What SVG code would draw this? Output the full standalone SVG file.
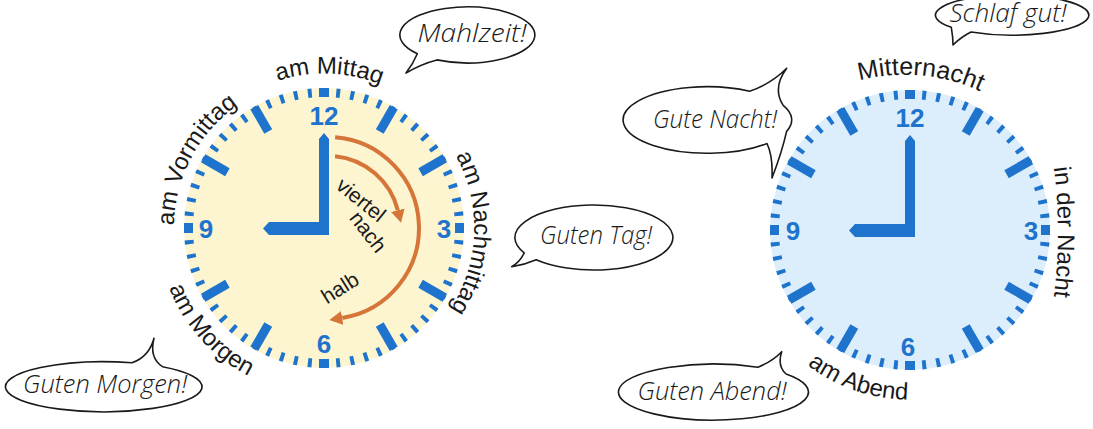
<svg xmlns="http://www.w3.org/2000/svg" xmlns:xlink="http://www.w3.org/1999/xlink" width="1093" height="429" viewBox="0 0 1093 429">
  <style>
    .face-day { fill: #fdf5d0; }
    .face-night { fill: #dcedfb; }
    .blue { fill: #1e73cd; }
    .ring { fill: none; stroke: #1e73cd; stroke-width: 9; stroke-dasharray: 0.28 0.72; stroke-dashoffset: 0.14; }
    .num { font-family: "Liberation Sans Narrow", "Liberation Sans", Arial, sans-serif; font-weight: bold; font-size: 26px; fill: #1e73cd; text-anchor: middle; }
    .lbl { font-family: "Liberation Sans", Arial, sans-serif; font-size: 24px; fill: #1a1a1a; }
    .inner { font-family: "Liberation Sans", Arial, sans-serif; font-size: 21px; fill: #1a1a1a; text-anchor: middle; }
    .arc { fill: none; stroke: #d67538; stroke-width: 4; }
    .bubble { fill: #ffffff; stroke: #1a1a1a; stroke-width: 1.6; stroke-linejoin: round; }
    .say { font-family: "Open Sans", "Noto Sans", sans-serif; font-style: italic; font-weight: 300; font-size: 25px; fill: #1a1a1a; text-anchor: middle; }
  </style>
  <defs>
    <rect id="hour-tick" x="-4.5" y="-139.5" width="9" height="28"/>
    <rect id="quarter-tick" x="-5" y="-140" width="10" height="9"/>
    <path id="hands" d="M -5,-89 L 0,-95 L 5,-89 L 5,7 L -55,7 L -61,0.5 L -55,-6 L -5,-6 Z"/>
    <marker id="head" viewBox="0 0 13 14" refX="0" refY="7" markerWidth="13" markerHeight="14" markerUnits="userSpaceOnUse" orient="auto">
      <path d="M0,0 L13,7 L0,14 Z" fill="#d67538"/>
    </marker>
    <!-- label baselines, relative to each clock centre -->
    <path id="p-mittag" d="M -152.9,-18.8 A 154 154 0 0 1 153.8,-8.1"/>
    <path id="p-vormittag" d="M -81.7,125.8 A 150 150 0 0 1 58.6,-138.1"/>
    <path id="p-nachmittag" d="M 18.3,-148.9 A 150 150 0 0 1 7.9,149.8"/>
    <path id="p-morgen" d="M -121.4,-113.2 A 166 166 0 0 0 99.9,132.6"/>
    <path id="p-mitternacht" d="M -182.3,-6.3 A 180 180 0 0 1 175,25"/>
    <path id="p-nacht" d="M 130.8,-128 A 500 500 0 0 1 130.8,132"/>
    <path id="p-abend" d="M -164.9,-41.1 A 170 170 0 0 0 155.3,69.1"/>
  </defs>

  <rect width="1093" height="429" fill="#ffffff"/>

  <!-- daytime clock -->
  <g id="clock-day" transform="translate(324,228)">
    <circle class="face-day" r="140"/>
    <circle class="ring" r="135.5" pathLength="60"/>
    <g class="blue">
      <use href="#quarter-tick"/>
      <use href="#quarter-tick" transform="rotate(90)"/>
      <use href="#quarter-tick" transform="rotate(180)"/>
      <use href="#quarter-tick" transform="rotate(270)"/>
      <use href="#hour-tick" transform="rotate(30)"/>
      <use href="#hour-tick" transform="rotate(60)"/>
      <use href="#hour-tick" transform="rotate(120)"/>
      <use href="#hour-tick" transform="rotate(150)"/>
      <use href="#hour-tick" transform="rotate(210)"/>
      <use href="#hour-tick" transform="rotate(240)"/>
      <use href="#hour-tick" transform="rotate(300)"/>
      <use href="#hour-tick" transform="rotate(330)"/>
    </g>
    <text class="num" x="0" y="-103">12</text>
    <text class="num" x="120" y="10">3</text>
    <text class="num" x="0" y="125">6</text>
    <text class="num" x="-118" y="10">9</text>
    <use href="#hands" class="blue"/>
    <text class="inner" transform="translate(37,-28) rotate(39)" y="7">viertel</text>
    <text class="inner" transform="translate(44,4) rotate(52)" y="7">nach</text>
    <text class="inner" transform="translate(16,60) rotate(-32)" y="7">halb</text>
    <text class="lbl"><textPath href="#p-mittag" startOffset="50%" text-anchor="middle">am Mittag</textPath></text>
    <text class="lbl"><textPath href="#p-vormittag" startOffset="50%" text-anchor="middle">am Vormittag</textPath></text>
    <text class="lbl"><textPath href="#p-nachmittag" startOffset="50%" text-anchor="middle">am Nachmittag</textPath></text>
    <text class="lbl"><textPath href="#p-morgen" startOffset="50%" text-anchor="middle">am Morgen</textPath></text>
  </g>

  <!-- night clock -->
  <g id="clock-night" transform="translate(910,230)">
    <circle class="face-night" r="140"/>
    <circle class="ring" r="135.5" pathLength="60"/>
    <g class="blue">
      <use href="#quarter-tick"/>
      <use href="#quarter-tick" transform="rotate(90)"/>
      <use href="#quarter-tick" transform="rotate(180)"/>
      <use href="#quarter-tick" transform="rotate(270)"/>
      <use href="#hour-tick" transform="rotate(30)"/>
      <use href="#hour-tick" transform="rotate(60)"/>
      <use href="#hour-tick" transform="rotate(120)"/>
      <use href="#hour-tick" transform="rotate(150)"/>
      <use href="#hour-tick" transform="rotate(210)"/>
      <use href="#hour-tick" transform="rotate(240)"/>
      <use href="#hour-tick" transform="rotate(300)"/>
      <use href="#hour-tick" transform="rotate(330)"/>
    </g>
    <text class="num" x="0" y="-103">12</text>
    <text class="num" x="121" y="10">3</text>
    <text class="num" x="-2" y="126">6</text>
    <text class="num" x="-117" y="10">9</text>
    <use href="#hands" class="blue"/>
    <text class="lbl" style="font-size:25px"><textPath href="#p-mitternacht" startOffset="50%" text-anchor="middle">Mitternacht</textPath></text>
    <text class="lbl"><textPath href="#p-nacht" startOffset="50%" text-anchor="middle">in der Nacht</textPath></text>
    <text class="lbl"><textPath href="#p-abend" startOffset="50%" text-anchor="middle">am Abend</textPath></text>
  </g>

  <!-- quarter-past and half-past sweeps -->
  <g id="connectors">
    <path class="arc" d="M 335,156.3 A 72 72 0 0 1 397.8,210.2" marker-end="url(#head)"/>
    <path class="arc" d="M 335.1,137.3 A 91 91 0 0 1 342.2,317.9" marker-end="url(#head)"/>
  </g>

  <!-- speech bubbles -->
  <g id="bubble-mahlzeit">
    <path class="bubble" d="M 436.9,59.9 A 67.5 28 0 1 0 417.3,53.7 Q 413,64 406,73 Q 421,64 436.9,59.9 Z"/>
    <text class="say" x="472" y="42" textLength="109" lengthAdjust="spacingAndGlyphs">Mahlzeit!</text>
  </g>
  <g id="bubble-morgen">
    <path class="bubble" d="M 162.5,366.7 A 98.3 25 0 1 1 132,362.8 Q 149,357 154,338.3 Q 149,358 162.5,366.7 Z"/>
    <text class="say" x="105" y="393" textLength="164" lengthAdjust="spacingAndGlyphs">Guten Morgen!</text>
  </g>
  <g id="bubble-tag">
    <path class="bubble" d="M 536.2,259.7 A 79 32.5 0 1 0 524.2,252.8 Q 520,262 511.7,266.7 Q 524,265 536.2,259.7 Z"/>
    <text class="say" x="596" y="244" textLength="112" lengthAdjust="spacingAndGlyphs">Guten Tag!</text>
  </g>
  <g id="bubble-nacht">
    <path class="bubble" d="M 783.2,105.4 A 84.2 33.3 0 0 1 786.6,131.4 Q 782,152 772,178 Q 773,156 767,143.5 A 84.2 33.3 0 1 1 749.6,91.2 Q 771,84 786.7,68.3 Q 772,88 783.2,105.4 Z"/>
    <text class="say" x="715" y="128" textLength="124" lengthAdjust="spacingAndGlyphs">Gute Nacht!</text>
  </g>
  <g id="bubble-schlaf">
    <path class="bubble" d="M 971,32 A 76.7 20 0 1 0 951.3,27.3 Q 953,37 953,45 Q 961,37 971,32 Z"/>
    <text class="say" x="1008" y="22" textLength="117" lengthAdjust="spacingAndGlyphs">Schlaf gut!</text>
  </g>
  <g id="bubble-abend">
    <path class="bubble" d="M 786.1,374 A 95 28 0 1 1 757.9,367.3 Q 773,361 781.7,351.7 Q 777,366 786.1,374 Z"/>
    <text class="say" x="712" y="400" textLength="149" lengthAdjust="spacingAndGlyphs">Guten Abend!</text>
  </g>
</svg>
